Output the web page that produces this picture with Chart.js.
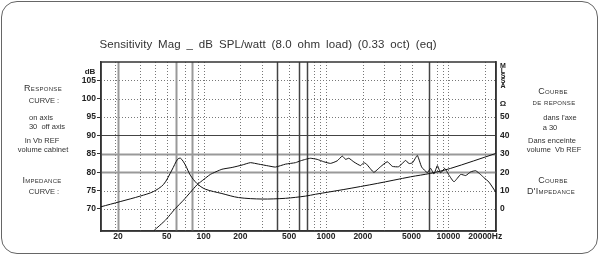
<!DOCTYPE html>
<html>
<head>
<meta charset="utf-8">
<script src="https://cdn.jsdelivr.net/npm/chart.js@4"></script>
<style>
  html, body { margin: 0; padding: 0; background: #fff; }
  #wrap { position: relative; width: 600px; height: 256px; overflow: hidden; }
  #frame { position: absolute; left: 1px; top: 1px; width: 595px; height: 251px;
           border: 1px solid #666; border-radius: 16px; }
  canvas { position: absolute; left: 0; top: 0; }
  .t { position: absolute; transform: translate(-50%, -50%); white-space: nowrap;
       font-family: "Liberation Sans", Arial, sans-serif; font-size: 7.5px; color: #333; }
  .sc { font-variant: small-caps; font-size: 9px; letter-spacing: 0.3px; }
  .title { font-size: 11.5px; color: #333; word-spacing: 2.5px; letter-spacing: 0.1px; }
  .ax { font-weight: bold; font-size: 8px; color: #222; text-align: center; }
  .mlssa { font-size: 7px; line-height: 5px; }
</style>
</head>
<body>
<div id="wrap">
  <div id="frame"></div>
  <canvas id="c" width="600" height="256"></canvas>

  <div class="t title" style="left:268px;top:44px;">Sensitivity Mag _ dB SPL/watt (8.0 ohm load) (0.33 oct) (eq)</div>

  <div class="t sc" style="left:43px;top:88px;">Response</div>
  <div class="t" style="left:44px;top:100px;">CURVE :</div>
  <div class="t" style="left:41px;top:117px;">on axis</div>
  <div class="t" style="left:47px;top:126px;">30&nbsp; off axis</div>
  <div class="t" style="left:42px;top:140px;">In Vb REF</div>
  <div class="t" style="left:43px;top:149px;">volume cabinet</div>
  <div class="t sc" style="left:42px;top:180px;">Impedance</div>
  <div class="t" style="left:44px;top:191px;">CURVE :</div>

  <div class="t sc" style="left:553px;top:91px;">Courbe</div>
  <div class="t sc" style="left:554px;top:102px;font-size:8px;">de reponse</div>
  <div class="t" style="left:560px;top:117px;">dans l'axe</div>
  <div class="t" style="left:550px;top:127px;">a 30</div>
  <div class="t" style="left:552px;top:140px;">Dans enceinte</div>
  <div class="t" style="left:554px;top:149px;">volume&nbsp; Vb REF</div>
  <div class="t sc" style="left:553px;top:180px;">Courbe</div>
  <div class="t sc" style="left:551px;top:191px;">D'Impedance</div>

  <div class="t ax" style="left:90px;top:71px;">dB</div>
  <div class="t ax mlssa" style="left:503px;top:75px;">M<br>L<br>S<br>S<br>A</div>
  <div class="t ax" style="left:503px;top:103px;">Ω</div>
</div>

<script>
// Axis ranges / ticks
const xTicks = [20, 50, 100, 200, 500, 1000, 2000, 5000, 10000, 20000];
const dbTicks = [70, 75, 80, 85, 90, 95, 100, 105];
const ohmTicks = [0, 10, 20, 30, 40, 50];

// Impedance curve (plotted on dB scale, 0 ohm = 70 dB, 10 ohm per 5 dB)
const impFreq = [14.5, 20.8, 30.3, 38.7, 47.1, 55.1, 61.2, 64.8, 70.8, 77.8, 88.4, 103, 141, 193, 300, 467, 680, 820, 1400, 2625, 4910, 7160, 10440, 24400];
const impDb   = [70.6, 72.0, 73.5, 74.7, 76.7, 80.6, 83.5, 83.8, 82.0, 79.2, 76.9, 75.4, 74.2, 73.1, 72.7, 72.9, 73.5, 74.0, 75.3, 76.95, 78.75, 79.7, 81.05, 85.1];

// Response curve (dB SPL)
const splFreq = [39.5, 48.6, 58.7, 68.5, 77.8, 88.4, 94, 113.5, 141, 171, 206, 241, 282, 340, 386, 467, 563, 618, 680, 747, 847, 959, 1088, 1235, 1358, 1445, 1538, 1689, 1915, 2038, 2144, 2460, 2790, 3168, 3481, 3920, 4476, 4762, 5104, 5575, 6050, 6730, 7160, 7620, 8130, 8650, 9330, 10120, 11120, 12610, 13860, 15230, 16730, 18360, 19550, 21480, 24380];
const splDb   = [64.2, 66.9, 70.1, 72.4, 74.5, 76.6, 77.3, 79.4, 80.8, 81.3, 81.95, 82.6, 82.2, 81.7, 81.4, 82.2, 82.6, 83.1, 83.5, 83.8, 83.5, 82.85, 82.4, 83.1, 84.4, 83.5, 83.8, 82.8, 81.8, 82.6, 82.2, 80.0, 81.5, 82.85, 81.6, 81.5, 83.2, 82.35, 82.6, 84.55, 81.4, 79.9, 81.05, 79.5, 81.8, 79.8, 81.05, 79.2, 77.4, 79.4, 79.1, 80.1, 80.4, 79.35, 78.5, 77.3, 74.6];

// grid line groups
const xDotted = [19, 30, 40, 50, 70, 90, 100, 200, 300, 500, 800, 900, 1000, 2000, 3000, 4000, 5000, 8000, 9000, 10000, 20000];
const xGray = [20, 60, 80];
const xDark = [400, 600, 700, 7000];
const yDotted = [70, 75, 95, 100, 105];
const yGray = [80, 85];
const yDark = [90];

const tickFont = { family: "Liberation Sans", size: 8.5, weight: "bold" };

const gridPlugin = {
    id: "gridLines",
    beforeDatasetsDraw(chart) {
        const { ctx, chartArea: a, scales } = chart;
        const x = scales.x, y = scales.y;
        ctx.save();
        function vline(v, color, w, dash) {
            const px = Math.round(x.getPixelForValue(v)) + 0.5;
            ctx.beginPath();
            ctx.setLineDash(dash);
            ctx.strokeStyle = color;
            ctx.lineWidth = w;
            ctx.moveTo(px, a.top);
            ctx.lineTo(px, a.bottom);
            ctx.stroke();
        }
        function hline(v, color, w, dash) {
            const py = Math.round(y.getPixelForValue(v)) + 0.5;
            ctx.beginPath();
            ctx.setLineDash(dash);
            ctx.strokeStyle = color;
            ctx.lineWidth = w;
            ctx.moveTo(a.left, py);
            ctx.lineTo(a.right, py);
            ctx.stroke();
        }
        xDotted.forEach(v => vline(v, "#777", 1, [1, 2]));
        yDotted.forEach(v => hline(v, "#777", 1, [1, 2]));
        xGray.forEach(v => vline(v, "#999", 2, []));
        yGray.forEach(v => hline(v, "#999", 2, []));
        xDark.forEach(v => vline(v, "#444", 1.5, []));
        yDark.forEach(v => hline(v, "#444", 1.2, []));
        ctx.setLineDash([]);
        ctx.strokeStyle = "#333";
        ctx.lineWidth = 1.5;
        ctx.strokeRect(a.left, a.top, a.right - a.left, a.bottom - a.top);
        ctx.restore();
    }
};

const ctx = document.getElementById("c").getContext("2d");

new Chart(ctx, {
    type: "line",
    data: {
        datasets: [
            {
                label: "Impedance",
                data: impFreq.map((f, i) => ({ x: f, y: impDb[i] })),
                borderColor: "#111",
                borderWidth: 1,
                pointRadius: 0,
                tension: 0.3,
                yAxisID: "y"
            },
            {
                label: "Response",
                data: splFreq.map((f, i) => ({ x: f, y: splDb[i] })),
                borderColor: "#111",
                borderWidth: 1,
                pointRadius: 0,
                tension: 0.15,
                yAxisID: "y"
            }
        ]
    },
    options: {
        responsive: false,
        animation: false,
        devicePixelRatio: 1,
        layout: { padding: { top: 62, left: 0, right: 0, bottom: 0 } },
        plugins: { legend: { display: false }, tooltip: { enabled: false } },
        scales: {
            x: {
                type: "logarithmic",
                min: 14.5,
                max: 24500,
                afterBuildTicks: s => { s.ticks = xTicks.map(v => ({ value: v })); },
                afterFit: s => { s.height = 25; },
                grid: { display: false, drawTicks: false },
                border: { display: true, color: "#333", width: 1.5 },
                ticks: {
                    autoSkip: false, maxRotation: 0, padding: 1,
                    font: tickFont, color: "#222",
                    callback: v => v === 20000 ? "20000Hz" : String(v)
                }
            },
            y: {
                position: "left",
                min: 64,
                max: 110,
                afterBuildTicks: s => { s.ticks = dbTicks.map(v => ({ value: v })); },
                afterFit: s => { s.width = 101; },
                grid: { drawOnChartArea: false, drawTicks: true, tickLength: 4, color: "#333" },
                border: { display: true, color: "#333", width: 1.5 },
                ticks: { padding: 1, font: tickFont, color: "#222" }
            },
            y2: {
                position: "right",
                min: -12,
                max: 80,
                afterBuildTicks: s => { s.ticks = ohmTicks.map(v => ({ value: v })); },
                afterFit: s => { s.width = 104; },
                grid: { drawOnChartArea: false, drawTicks: false },
                border: { display: true, color: "#333", width: 1.5 },
                ticks: { padding: 4, font: tickFont, color: "#222" }
            }
        }
    },
    plugins: [gridPlugin]
});
</script>
</body>
</html>
